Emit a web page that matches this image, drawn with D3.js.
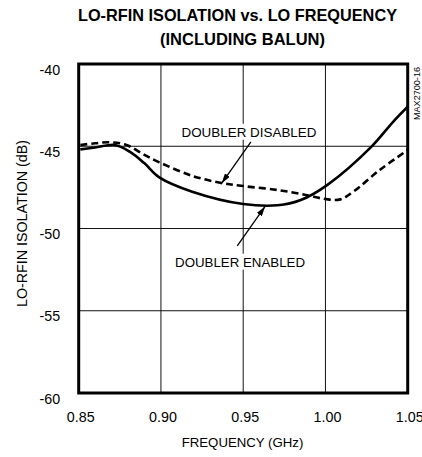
<!DOCTYPE html>
<html>
<head>
<meta charset="utf-8">
<script src="https://cdn.jsdelivr.net/npm/d3@7"></script>
<style>
  html, body { margin: 0; padding: 0; background: #fff; }
  svg { display: block; font-family: "Liberation Sans", Arial, Helvetica, sans-serif; }
</style>
</head>
<body>
<svg id="chart" width="422" height="457"></svg>
<script>
// ---- data ----
const titleLines = ["LO-RFIN ISOLATION vs.  LO FREQUENCY", "(INCLUDING BALUN)"];
const xTicks = [0.85, 0.90, 0.95, 1.00, 1.05];
const yTicks = [-40, -45, -50, -55, -60];
const xLabel = "FREQUENCY (GHz)";
const yLabel = "LO-RFIN ISOLATION (dB)";
const partLabel = "MAX2700-16";

// Doubler enabled (solid)
const freqEnabled = [0.851, 0.860, 0.872, 0.881, 0.890, 0.899, 0.919, 0.950, 0.971, 0.985, 1.001, 1.028, 1.041, 1.050];
const isoEnabled  = [-45.19, -45.08, -44.92, -45.33, -46.04, -46.89, -47.76, -48.51, -48.59, -48.27, -47.36, -45.02, -43.53, -42.60];

// Doubler disabled (dashed)
const freqDisabled = [0.851, 0.860, 0.869, 0.879, 0.890, 0.899, 0.919, 0.936, 0.950, 0.971, 0.988, 1.000, 1.009, 1.017, 1.033, 1.050];
const isoDisabled  = [-44.92, -44.82, -44.76, -44.92, -45.53, -45.98, -46.80, -47.22, -47.42, -47.66, -47.96, -48.21, -48.23, -47.76, -46.44, -45.23];

// annotations: [label, textX, textY, arrowFromX, arrowFromY, arrowToX, arrowToY] in data units
const annDisabled = ["DOUBLER DISABLED", 0.9535, -44.42, 0.9547, -44.74, 0.9369, -47.25];
const annEnabled  = ["DOUBLER ENABLED", 0.9481, -52.32, 0.9464, -51.06, 0.9633, -48.66];

// ---- layout ----
const svg = d3.select("#chart");
const pL = 78.7, pR = 407.7, pT = 64, pB = 393;
const x = d3.scaleLinear().domain([0.85, 1.05]).range([pL, pR]);
const y = d3.scaleLinear().domain([-60, -40]).range([pB, pT]);

// title
svg.append("text").attr("x", 237.5).attr("y", 20.7)
  .attr("text-anchor", "middle").attr("font-size", 16.5).attr("font-weight", "bold")
  .attr("textLength", 319).attr("lengthAdjust", "spacingAndGlyphs")
  .text(titleLines[0]);
svg.append("text").attr("x", 242.5).attr("y", 45.3)
  .attr("text-anchor", "middle").attr("font-size", 16.5).attr("font-weight", "bold")
  .attr("textLength", 165).attr("lengthAdjust", "spacingAndGlyphs")
  .text(titleLines[1]);

// grid
const grid = svg.append("g").attr("stroke", "#111").attr("stroke-width", 1);
grid.selectAll("line.v").data(xTicks.slice(1, -1)).enter().append("line")
  .attr("x1", d => x(d)).attr("x2", d => x(d)).attr("y1", pT).attr("y2", pB);
grid.selectAll("line.h").data(yTicks.slice(1, -1)).enter().append("line")
  .attr("y1", d => y(d)).attr("y2", d => y(d)).attr("x1", pL).attr("x2", pR);

// axes tick labels via d3 axes (no lines)
const xAxis = svg.append("g").attr("transform", `translate(0,${pB})`)
  .call(d3.axisBottom(x).tickValues(xTicks).tickFormat(d3.format(".2f")).tickSize(0).tickPadding(0));
xAxis.select(".domain").remove();
xAxis.selectAll("text").attr("font-size", 14.3).attr("dy", 0).attr("y", 28.5).attr("dx", 1.5)
  .attr("font-family", "Liberation Sans, Arial, sans-serif").attr("fill", "#000");

const yAxis = svg.append("g").attr("transform", `translate(${pL},0)`)
  .call(d3.axisLeft(y).tickValues(yTicks).tickFormat(d => String(d)).tickSize(0).tickPadding(0));
yAxis.select(".domain").remove();
yAxis.selectAll("text").attr("font-size", 14.3).attr("x", -18.5).attr("dy", "0.7em")
  .attr("font-family", "Liberation Sans, Arial, sans-serif").attr("fill", "#000");

// axis titles
svg.append("text").attr("x", 242.5).attr("y", 447)
  .attr("text-anchor", "middle").attr("font-size", 13.5)
  .attr("textLength", 121.6).attr("lengthAdjust", "spacingAndGlyphs")
  .text(xLabel);
svg.append("text").attr("transform", "translate(26.5,223.5) rotate(-90)")
  .attr("text-anchor", "middle").attr("font-size", 14)
  .attr("textLength", 167).attr("lengthAdjust", "spacingAndGlyphs")
  .text(yLabel);

// part number
svg.append("text").attr("transform", "translate(419.5,93.5) rotate(-90)")
  .attr("text-anchor", "middle").attr("font-size", 9)
  .attr("textLength", 53).attr("lengthAdjust", "spacingAndGlyphs")
  .text(partLabel);

// clip
svg.append("clipPath").attr("id", "plotclip").append("rect")
  .attr("x", pL).attr("y", pT).attr("width", pR - pL).attr("height", pB - pT);

const line = d3.line().x(d => x(d[0])).y(d => y(d[1])).curve(d3.curveCatmullRom.alpha(0.5));

const plot = svg.append("g").attr("clip-path", "url(#plotclip)");
plot.append("path").datum(d3.zip(freqDisabled, isoDisabled))
  .attr("d", line).attr("fill", "none").attr("stroke", "#000")
  .attr("stroke-width", 2.6).attr("stroke-dasharray", "7,4");
plot.append("path").datum(d3.zip(freqEnabled, isoEnabled))
  .attr("d", line).attr("fill", "none").attr("stroke", "#000")
  .attr("stroke-width", 2.6);

// annotations
const defs = svg.append("defs");
defs.append("marker").attr("id", "arrow").attr("viewBox", "0 0 10 6")
  .attr("refX", 10).attr("refY", 3).attr("markerWidth", 10).attr("markerHeight", 6)
  .attr("markerUnits", "userSpaceOnUse").attr("orient", "auto")
  .append("path").attr("d", "M0,0 L10,3 L0,6 Z").attr("fill", "#000");

[annDisabled, annEnabled].forEach(a => {
  const g = svg.append("g");
  const bg = g.append("rect").attr("fill", "#fff");
  const t = g.append("text").attr("x", x(a[1])).attr("y", y(a[2]))
    .attr("text-anchor", "middle").attr("font-size", 13.5)
    .attr("textLength", a[0] === annDisabled[0] ? 135 : 130).attr("lengthAdjust", "spacingAndGlyphs")
    .text(a[0]);
  const bb = t.node().getBBox();
  bg.attr("x", bb.x - 2).attr("y", bb.y - 1).attr("width", bb.width + 4).attr("height", bb.height + 1);
  svg.append("line").attr("x1", x(a[3])).attr("y1", y(a[4])).attr("x2", x(a[5])).attr("y2", y(a[6]))
    .attr("stroke", "#000").attr("stroke-width", 1.3).attr("marker-end", "url(#arrow)");
});

// frame
svg.append("rect").attr("x", pL).attr("y", pT).attr("width", pR - pL).attr("height", pB - pT)
  .attr("fill", "none").attr("stroke", "#000").attr("stroke-width", 3);
</script>
</body>
</html>
